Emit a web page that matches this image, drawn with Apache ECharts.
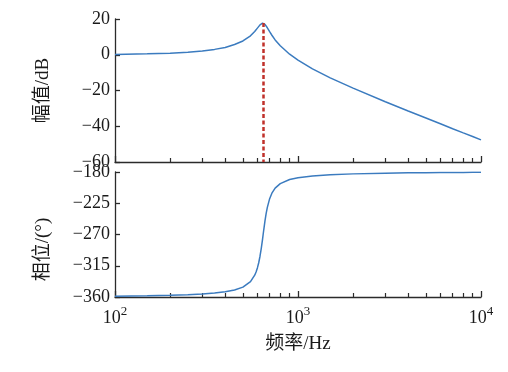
<!DOCTYPE html>
<html>
<head>
<meta charset="utf-8">
<script src="https://cdn.jsdelivr.net/npm/echarts@6/dist/echarts.min.js"></script>
<style>
html,body{margin:0;padding:0;background:#fff;}
#chart{width:508px;height:372px;}
</style>
</head>
<body>
<div id="chart"></div>
<script>
const freq = [100,150,200,250,300,350,400,450,500,550,580,590,600,610,620,630,640,645,650,660,670,680,700,720,750,800,900,1000,1200,1500,2000,3000,4000,5000,6000,7000,8000,9000,10000];
const magnitudeDb = [0.2,0.5,0.9,1.4,2.1,3.0,4.1,5.7,7.7,10.6,13.0,13.9,14.9,15.8,16.7,17.4,17.7,17.7,17.6,17.0,16.1,15.1,12.9,10.9,8.3,5.0,0.3,-3.0,-7.9,-12.9,-18.7,-26.3,-31.5,-35.4,-38.6,-41.4,-43.7,-45.7,-47.6];
const phaseDeg = [-358.8,-358.2,-357.4,-356.6,-355.6,-354.3,-352.5,-350.0,-345.8,-337.9,-328.6,-323.9,-318.1,-310.7,-301.3,-289.9,-276.9,-270,-263.2,-250.5,-239.6,-230.9,-218.4,-210.5,-203.2,-196.7,-190.8,-188.2,-185.6,-183.9,-182.7,-181.7,-181.2,-181.0,-180.8,-180.7,-180.6,-180.5,-180.5];
const peakFreq = 645;
const peakDb = 17.7;
const majorTicks = [100,1000,10000];
const minorTicks = [200,300,400,500,600,700,800,900,2000,3000,4000,5000,6000,7000,8000,9000];
const magRange = [-60, 20, 20];
const phaseRange = [-360, -180, 45];

const serif = "'Liberation Serif','Noto Sans CJK SC',serif";
const axisColor = '#2b2b2b';
const lineColor = '#3b7bbf';

function xMajor(gridIndex, showLabel, name) {
  return {
    type: 'log', logBase: 10, min: 100, max: 10000, gridIndex: gridIndex, position: 'bottom',
    axisLine: {show: true, onZero: false, lineStyle: {color: axisColor, width: 1.3}},
    axisTick: {show: true, inside: true, length: 6, customValues: majorTicks, lineStyle: {color: axisColor, width: 1.3}},
    axisLabel: {
      show: showLabel, margin: 8, customValues: majorTicks,
      formatter: function (v) { return '{b|10}{s|' + Math.round(Math.log10(v)) + '}'; },
      rich: {
        b: {fontFamily: serif, fontSize: 18, lineHeight: 22, color: '#1a1a1a', verticalAlign: 'bottom'},
        s: {fontFamily: serif, fontSize: 13, lineHeight: 14, color: '#1a1a1a', verticalAlign: 'top'}
      }
    },
    splitLine: {show: false},
    name: name || '', nameLocation: 'middle', nameGap: 38,
    nameTextStyle: {fontFamily: serif, fontSize: 19, color: '#1a1a1a'}
  };
}
function xMinor(gridIndex) {
  return {
    type: 'log', logBase: 10, min: 100, max: 10000, gridIndex: gridIndex, position: 'bottom',
    axisLine: {show: false, onZero: false},
    axisTick: {show: true, inside: true, length: 4, customValues: minorTicks, lineStyle: {color: axisColor, width: 1.2}},
    axisLabel: {show: false},
    splitLine: {show: false}
  };
}
function yAxis(gridIndex, range, name, pad) {
  return {
    type: 'value', gridIndex: gridIndex, min: range[0], max: range[1], interval: range[2], position: 'left',
    axisLine: {show: true, onZero: false, lineStyle: {color: axisColor, width: 1.3}},
    axisTick: {show: true, inside: true, length: 5, lineStyle: {color: axisColor, width: 1.3}},
    axisLabel: {
      margin: 5, fontFamily: serif, fontSize: 18, color: '#1a1a1a',
      formatter: function (v) { return String(v).replace('-', '\u2212'); }
    },
    splitLine: {show: false},
    name: name, nameLocation: 'middle', nameGap: 62, nameRotate: 90,
    nameTextStyle: {fontFamily: serif, fontSize: 19, color: '#1a1a1a', padding: pad}
  };
}

const chart = echarts.init(document.getElementById('chart'), null, {renderer: 'canvas'});
chart.setOption({
  backgroundColor: '#fff',
  animation: false,
  grid: [
    {left: 115, top: 19, width: 366, height: 143, containLabel: false, outerBoundsMode: 'none'},
    {left: 115, top: 172, width: 366, height: 125, containLabel: false, outerBoundsMode: 'none'}
  ],
  xAxis: [xMajor(0, false), xMinor(0), xMajor(1, true, '频率/Hz'), xMinor(1)],
  yAxis: [yAxis(0, magRange, '幅值/dB', [0, 0, 0, 0]), yAxis(1, phaseRange, '相位/(°)', [0, 30, 0, 0])],
  series: [
    {
      type: 'line', xAxisIndex: 0, yAxisIndex: 0, showSymbol: false, symbol: 'none',
      data: freq.map((f, i) => [f, magnitudeDb[i]]),
      lineStyle: {color: lineColor, width: 1.5},
      markLine: {
        silent: true, symbol: 'none', label: {show: false},
        lineStyle: {color: '#c0302a', width: 2.5, type: [4, 2.5]},
        data: [[{coord: [peakFreq, peakDb]}, {coord: [peakFreq, magRange[0]]}]]
      }
    },
    {
      type: 'line', xAxisIndex: 2, yAxisIndex: 1, showSymbol: false, symbol: 'none',
      data: freq.map((f, i) => [f, phaseDeg[i]]),
      lineStyle: {color: lineColor, width: 1.5}
    }
  ]
});
</script>
</body>
</html>
